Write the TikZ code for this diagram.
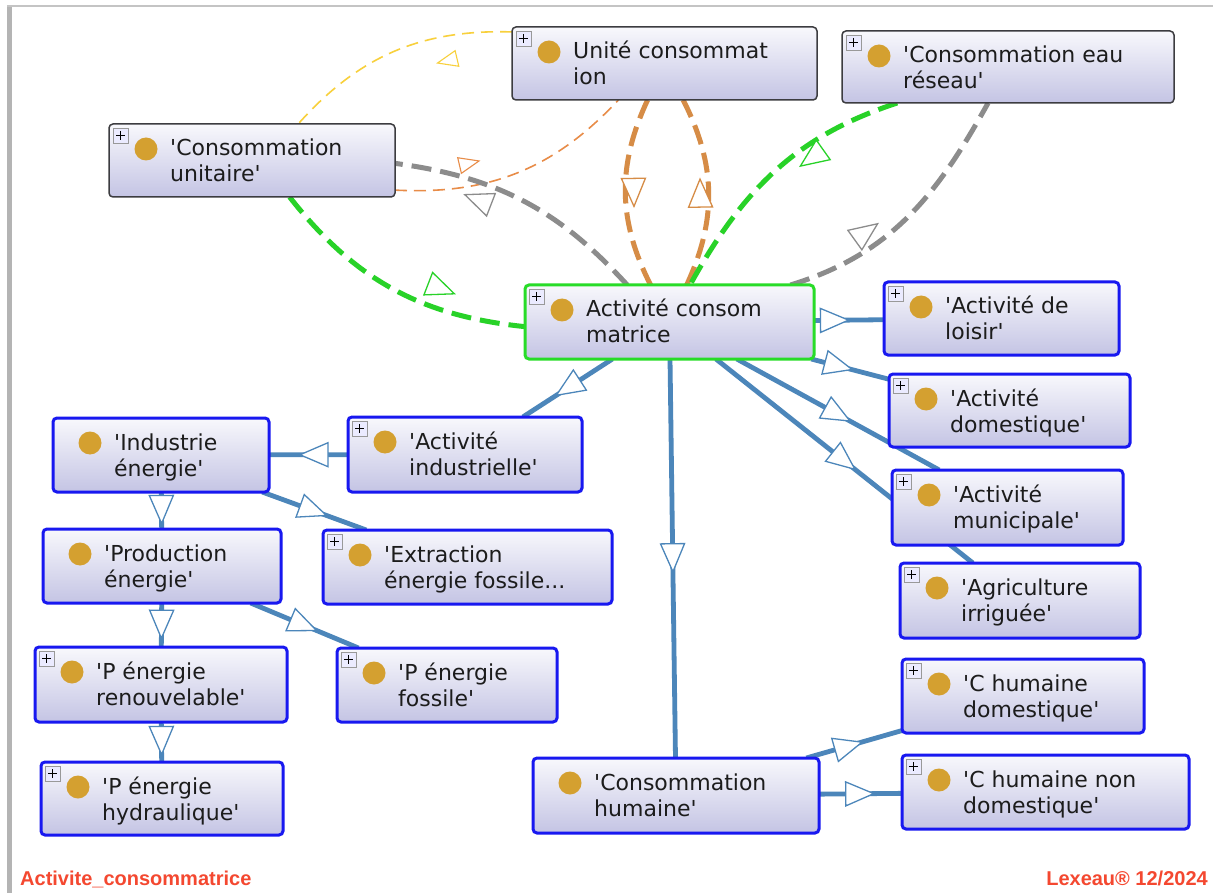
\documentclass[tikz,border=0pt]{standalone}
\usepackage{fontspec}
\newfontfamily\etiquette{DejaVu Sans}
\newfontfamily\piedfont{Liberation Sans}
\usetikzlibrary{decorations.markings,backgrounds}

\definecolor{lienbleu}{RGB}{76,134,186}
\definecolor{bordbleu}{RGB}{24,24,240}
\definecolor{bordvert}{RGB}{40,220,40}
\definecolor{bordgris}{RGB}{60,60,64}
\definecolor{fondhaut}{RGB}{248,248,252}
\definecolor{fondbas}{RGB}{196,196,228}
\definecolor{or}{RGB}{212,160,48}
\definecolor{texte}{RGB}{28,28,28}
\definecolor{gristiret}{RGB}{140,140,140}
\definecolor{vert}{RGB}{40,210,40}
\definecolor{jaune}{RGB}{248,208,60}
\definecolor{orange}{RGB}{214,140,70}
\definecolor{orangeclair}{RGB}{232,140,72}
\definecolor{rouge}{RGB}{244,72,48}
\definecolor{cadregris}{RGB}{180,180,180}
\definecolor{cadreclair}{RGB}{196,196,196}

\tikzset{
  classe/.style={rectangle, rounded corners=4pt, inner sep=0pt, outer sep=0pt,
    top color=fondhaut, bottom color=fondbas, anchor=north west},
  grise/.style={classe, draw=bordgris, line width=1.5pt},
  bleue/.style={classe, draw=bordbleu, line width=3pt},
  verte/.style={classe, draw=bordvert, line width=3pt},
  libelle/.style={inner sep=0pt, align=left, text=texte,
    font=\etiquette\fontsize{22}{26}\selectfont},
  pastille/.style={fill=or},
  plusbox/.style={draw=gray!80, fill=blue!8, line width=0.8pt},
  pied/.style={inner sep=0pt, text=rouge, font=\piedfont\bfseries\fontsize{20}{22}\selectfont},
  isa/.style={draw=lienbleu, line width=4.8pt},
  tireteais/.style={dash pattern=on 20pt off 9pt, line width=5pt},
  tiretfin/.style={dash pattern=on 12pt off 7pt, line width=1.6pt},
  fleche/.style={postaction=decorate, decoration={markings,
    mark=at position 0.5 with {\draw[#1, fill=white, line width=1.3pt]
      (13pt,0pt) -- (-15pt,12pt) -- (-15pt,-12pt) -- cycle;}}},
  petitefleche/.style={postaction=decorate, decoration={markings,
    mark=at position 0.5 with {\draw[#1, fill=white, line width=1.1pt]
      (9pt,0pt) -- (-11pt,8pt) -- (-11pt,-8pt) -- cycle;}}}
}

% #1 style, #2 nom, #3-#6 coins, #7 texte (base de la derniere ligne)
\newcommand{\classe}[7]{%
  \node[#1, minimum width={(#5-#3)*1pt}, minimum height={(#6-#4)*1pt}] (#2) at (#3,#4) {};
  \fill[pastille] ([shift={(37pt,-25pt)}]#2.north west) circle (11.5pt);
  \node[libelle, anchor=base west] (#2-t) at ([shift={(61pt,-58pt)}]#2.north west) {#7};
}
\newcommand{\boiteplus}[1]{%
  \draw[plusbox] ([shift={(4pt,-4pt)}]#1.north west) rectangle ++(15pt,-15pt);
  \draw[line width=1.3pt] ([shift={(11.5pt,-7pt)}]#1.north west) -- ++(0pt,-9pt)
    ([shift={(7pt,-11.5pt)}]#1.north west) -- ++(9pt,0pt);
}

\begin{document}
\begin{tikzpicture}[x=1pt, y=-1pt]
\useasboundingbox (0,0) rectangle (1213,893);
% cadre
\fill[cadregris] (7,5) rectangle (12,893);
\draw[cadreclair, line width=2pt] (7,6) -- (1213,6);

% classes
\classe{grise}{uc}{512}{27}{817}{100}{Unité consommat\\ion}
\classe{grise}{er}{842}{31}{1174}{103}{'Consommation eau\\réseau'}
\classe{grise}{cu}{109}{124}{395}{197}{'Consommation\\unitaire'}
\classe{verte}{ac}{525}{285}{814}{359}{Activité consom\\matrice}
\classe{bleue}{loisir}{884}{282}{1119}{355}{'Activité de\\loisir'}
\classe{bleue}{domest}{889}{374}{1130}{447}{'Activité\\domestique'}
\classe{bleue}{munic}{892}{470}{1123}{545}{'Activité\\municipale'}
\classe{bleue}{agri}{900}{563}{1140}{638}{'Agriculture\\irriguée'}
\classe{bleue}{indus}{348}{417}{582}{492}{'Activité\\industrielle'}
\classe{bleue}{inden}{53}{418}{269}{492}{'Industrie\\énergie'}
\classe{bleue}{prod}{43}{529}{281}{603}{'Production\\énergie'}
\classe{bleue}{extr}{323}{530}{612}{604}{'Extraction\\énergie fossile...}
\classe{bleue}{renouv}{35}{647}{287}{722}{'P énergie\\renouvelable'}
\classe{bleue}{pfoss}{337}{648}{557}{722}{'P énergie\\fossile'}
\classe{bleue}{hydro}{41}{762}{283}{835}{'P énergie\\hydraulique'}
\classe{bleue}{chum}{533}{758}{819}{833}{'Consommation\\humaine'}
\classe{bleue}{chdom}{902}{659}{1144}{733}{'C humaine\\domestique'}
\classe{bleue}{chnd}{902}{755}{1189}{829}{'C humaine non\\domestique'}

\foreach \n in {uc, er, cu, ac, loisir, domest, munic, agri, indus, extr, renouv, pfoss, hydro, chdom, chnd}
  \boiteplus{\n};

\begin{scope}[on background layer]
  \fill[white] (0,0) rectangle (1213,893);
  % sous-classes
  \foreach \a/\b in {ac/loisir, ac/domest, ac/munic, ac/agri, ac/indus, ac/chum,
      indus/inden, inden/extr, inden/prod, prod/renouv, prod/pfoss, renouv/hydro,
      chum/chdom, chum/chnd}
  {
    \draw[isa] (\a) -- (\b);
    \path[fleche=lienbleu] (\a.center) -- (\b.center);
  }
  % proprietes
  \draw[tiretfin, jaune] (uc) to[bend right=25] (cu);
  \path[petitefleche=jaune] (uc.center) to[bend right=25] (cu.center);
  \draw[tiretfin, orangeclair] (cu) to[bend right=25] (uc);
  \path[petitefleche=orangeclair] (cu.center) to[bend right=25] (uc.center);
  \draw[tireteais, orange] (uc) to[bend right=26] (ac);
  \path[fleche=orange] (uc.center) to[bend right=26] (ac.center);
  \draw[tireteais, orange] (ac) to[bend right=26] (uc);
  \path[fleche=orange] (ac.center) to[bend right=26] (uc.center);
  \draw[tireteais, gristiret] (ac) to[bend right=20] (cu);
  \path[fleche=gristiret] (ac.center) to[bend right=20] (cu.center);
  \draw[tireteais, gristiret] (ac) to[out=17, in=241] (er);
  \path[fleche=gristiret] (ac.center) to[out=17, in=241] (er.center);
  \draw[tireteais, vert] (er) to[out=198, in=61] (ac);
  \path[fleche=vert] (er.center) to[out=198, in=61] (ac.center);
  \draw[tireteais, vert] (cu) to[bend right=23] (ac);
  \path[fleche=vert] (cu.center) to[bend right=23] (ac.center);
\end{scope}

% pied de page
\node[pied, anchor=base west] (nomdiag) at (20,885) {Activite\_consommatrice};
\node[pied, anchor=base east] (signature) at (1208,885) {Lexeau® 12/2024};
\end{tikzpicture}
\end{document}
